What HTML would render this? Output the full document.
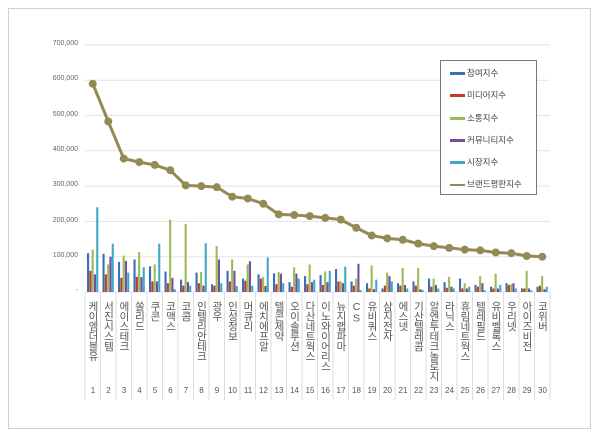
<!DOCTYPE html>
<html><head><meta charset="utf-8">
<style>
body{margin:0;background:#fff;}
#w{position:relative;width:600px;height:438px;overflow:hidden;font-family:"Liberation Sans","Noto Sans CJK KR",sans-serif;}
#frame{position:absolute;left:8px;top:8px;width:583px;height:421px;border:1px solid #d0d0d0;box-sizing:border-box;}
.lab{position:absolute;top:301px;width:15px;text-align:center;writing-mode:vertical-lr;text-orientation:upright;font-size:10.5px;color:#555;letter-spacing:-0.5px;line-height:15px;}
.num{position:absolute;top:386px;width:16px;text-align:center;font-size:8px;color:#555;}
.yl{position:absolute;left:30px;width:48px;text-align:right;font-size:7px;color:#666;}
#leg{position:absolute;left:440px;top:60px;width:97px;height:135px;border:1px solid #777;background:#fff;box-sizing:border-box;}
.li{position:absolute;left:9px;font-size:8.5px;color:#444;height:12px;line-height:12px;}
.li i{display:inline-block;width:15px;height:3px;vertical-align:middle;margin-right:2px;}
</style></head><body>
<div id="w">
<div id="frame"></div>
<svg id="s" width="600" height="438" style="position:absolute;left:0;top:0"></svg>
<div class="yl" style="top:40px">700,000</div>
<div class="yl" style="top:75px">600,000</div>
<div class="yl" style="top:111px">500,000</div>
<div class="yl" style="top:146px">400,000</div>
<div class="yl" style="top:181px">300,000</div>
<div class="yl" style="top:217px">200,000</div>
<div class="yl" style="top:252px">100,000</div>
<div class="yl" style="top:287px">-</div>
<div class="lab" style="left:85px">케이엠더블유</div>
<div class="lab" style="left:100.5px">서진시스템</div>
<div class="lab" style="left:116px">에이스테크</div>
<div class="lab" style="left:131.5px">쏠리드</div>
<div class="lab" style="left:147px">쿠콘</div>
<div class="lab" style="left:162.5px">코맥스</div>
<div class="lab" style="left:178px">코콤</div>
<div class="lab" style="left:193.5px">인텔리안테크</div>
<div class="lab" style="left:209px">광우</div>
<div class="lab" style="left:224.5px">인성정보</div>
<div class="lab" style="left:240px">머큐리</div>
<div class="lab" style="left:255.5px">에치에프알</div>
<div class="lab" style="left:271px">텔콘제약</div>
<div class="lab" style="left:286.5px">오이솔루션</div>
<div class="lab" style="left:302px">다산네트웍스</div>
<div class="lab" style="left:317.5px">이노와이어리스</div>
<div class="lab" style="left:333px">뉴지랩파마</div>
<div class="lab" style="left:348.5px">CS</div>
<div class="lab" style="left:364px">유비쿼스</div>
<div class="lab" style="left:379.5px">삼지전자</div>
<div class="lab" style="left:395px">에스넷</div>
<div class="lab" style="left:410.5px">기산텔레콤</div>
<div class="lab" style="left:426px">알엔투테크놀로지</div>
<div class="lab" style="left:441.5px">라닉스</div>
<div class="lab" style="left:457px">휴림네트웍스</div>
<div class="lab" style="left:472.5px">텔레필드</div>
<div class="lab" style="left:488px">유비벨록스</div>
<div class="lab" style="left:503.5px">우리넷</div>
<div class="lab" style="left:519px">아이즈비전</div>
<div class="lab" style="left:534.5px">코위버</div>
<div class="num" style="left:85px">1</div><div class="num" style="left:100.5px">2</div><div class="num" style="left:116px">3</div><div class="num" style="left:131.5px">4</div><div class="num" style="left:147px">5</div><div class="num" style="left:162.5px">6</div><div class="num" style="left:178px">7</div><div class="num" style="left:193.5px">8</div><div class="num" style="left:209px">9</div><div class="num" style="left:224.5px">10</div><div class="num" style="left:240px">11</div><div class="num" style="left:255.5px">12</div><div class="num" style="left:271px">13</div><div class="num" style="left:286.5px">14</div><div class="num" style="left:302px">15</div><div class="num" style="left:317.5px">16</div><div class="num" style="left:333px">17</div><div class="num" style="left:348.5px">18</div><div class="num" style="left:364px">19</div><div class="num" style="left:379.5px">20</div><div class="num" style="left:395px">21</div><div class="num" style="left:410.5px">22</div><div class="num" style="left:426px">23</div><div class="num" style="left:441.5px">24</div><div class="num" style="left:457px">25</div><div class="num" style="left:472.5px">26</div><div class="num" style="left:488px">27</div><div class="num" style="left:503.5px">28</div><div class="num" style="left:519px">29</div><div class="num" style="left:534.5px">30</div>
<div id="leg">
<div class="li" style="top:6px"><i style="background:#3a6fb5"></i>참여지수</div>
<div class="li" style="top:28px"><i style="background:#c0392b"></i>미디어지수</div>
<div class="li" style="top:51px"><i style="background:#9bbb59"></i>소통지수</div>
<div class="li" style="top:73px"><i style="background:#7050a0"></i>커뮤니티지수</div>
<div class="li" style="top:95px"><i style="background:#3fa8c8"></i>시장지수</div>
<div class="li" style="top:117px"><i style="background:#948a54;height:2px"></i>브랜드평판지수</div>
</div>
</div>
<script>
var s=document.getElementById('s'),h='';
for(var i=0;i<8;i++){var y=292-i*35.3;h+='<line x1="85" x2="550" y1="'+y+'" y2="'+y+'" stroke="#e3e3e3" stroke-width="1"/>';}
for(var k=0;k<=30;k++){var x=85+15.5*k;h+='<line x1="'+x+'" x2="'+x+'" y1="292" y2="400" stroke="#ddd" stroke-width="1"/>';}
var B=[[110,60,120,50,240],[108,50,78,100,137],[85,40,103,88,55],[92,43,113,42,70],[73,30,78,30,137],[58,25,205,40,8],[35,18,193,28,18],[55,25,57,18,138],[22,18,130,92,25],[60,30,92,60,17],[38,32,78,87,18],[50,38,43,17,98],[53,22,57,52,25],[28,15,70,52,38],[45,22,78,28,35],[48,20,58,28,60],[65,30,30,25,72],[30,18,38,80,5],[25,10,75,8,35],[10,18,55,45,30],[25,18,68,20,10],[30,18,68,8,5],[38,15,38,20,10],[28,12,43,15,10],[38,10,25,10,15],[20,15,45,25,5],[15,10,52,10,20],[25,20,22,25,10],[10,10,60,10,5],[15,18,45,8,15]];
var C=['#3a6fb5','#c0392b','#9bbb59','#7050a0','#3fa8c8'];
var L=[590,483,378,368,360,345,302,300,297,270,265,250,220,218,215,210,205,182,160,152,148,137,130,125,120,118,112,110,102,100];
for(var k=0;k<30;k++){var x0=85+15.5*k+2;for(var j=0;j<5;j++){var v=B[k][j]*0.353;h+='<rect x="'+(x0+j*2.3)+'" y="'+(292-v)+'" width="2.1" height="'+v+'" fill="'+C[j]+'"/>';}}
var p='';for(var k=0;k<30;k++){p+=(85+15.5*(k+0.5))+','+(292-L[k]*0.353)+' ';}
h+='<polyline points="'+p+'" fill="none" stroke="#948a54" stroke-width="3"/>';
for(var k=0;k<30;k++){h+='<circle cx="'+(85+15.5*(k+0.5))+'" cy="'+(292-L[k]*0.353)+'" r="4" fill="#948a54"/>';}
s.innerHTML=h;
</script>
</body></html>
